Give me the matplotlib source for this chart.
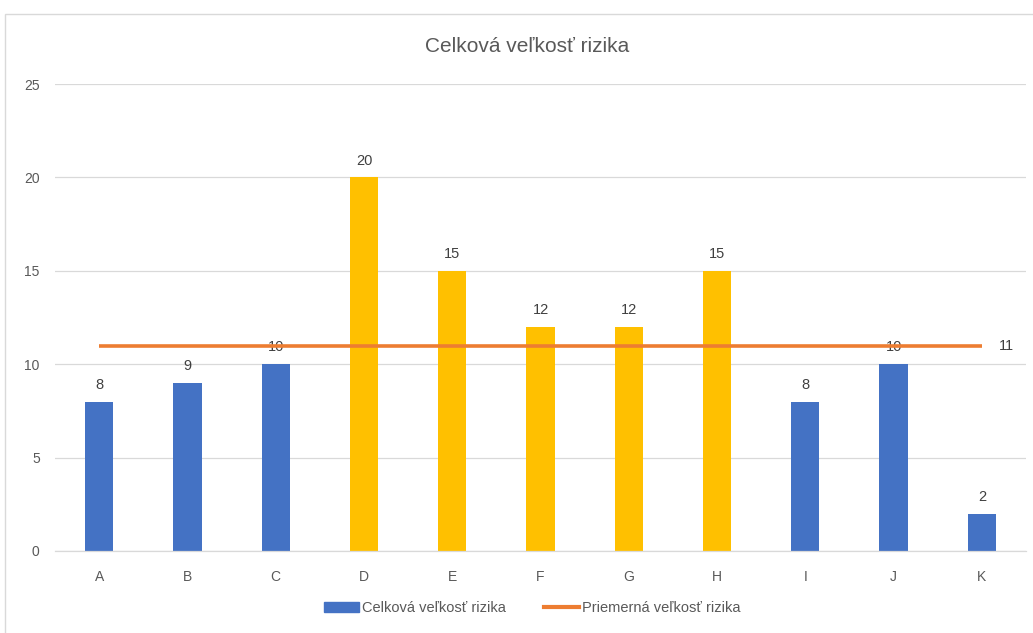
import matplotlib.pyplot as plt
from matplotlib.patches import Rectangle

plt.rcParams['font.family'] = ['Liberation Sans', 'DejaVu Sans']

kategorie = ['A', 'B', 'C', 'D', 'E', 'F', 'G', 'H', 'I', 'J', 'K']
hodnoty = [8, 9, 10, 20, 15, 12, 12, 15, 8, 10, 2]
priemer = [11] * len(kategorie)
farby = ['#4472C4', '#4472C4', '#4472C4', '#FFC000', '#FFC000', '#FFC000',
         '#FFC000', '#FFC000', '#4472C4', '#4472C4', '#4472C4']

seda = '#595959'

fig = plt.figure(figsize=(10.33, 6.33), dpi=100)
fig.patches.append(Rectangle((5 / 1033, -0.1), 1.2, 1 - 14 / 633 + 0.1,
                             transform=fig.transFigure, fill=False,
                             edgecolor='#D9D9D9', linewidth=1))
ax = fig.add_axes([55 / 1033, 1 - 551 / 633, 971 / 1033, 467 / 633])

x = range(len(kategorie))
ax.bar(x, hodnoty, width=0.32, color=farby, zorder=2,
       label='Celková veľkosť rizika')
for xi, v in zip(x, hodnoty):
    ax.annotate(str(v), (xi, v), xytext=(0, 7), textcoords='offset points',
                ha='center', va='bottom', fontsize=10.5, color='#404040', zorder=3)

ax.plot(x, priemer, color='#ED7D31', linewidth=2.6, zorder=4,
        label='Priemerná veľkosť rizika', solid_capstyle='butt')
ax.annotate(str(priemer[-1]), (x[-1], priemer[-1]), xytext=(12, 0),
            textcoords='offset points', ha='left', va='center',
            fontsize=10.5, color='#404040')

ax.set_xlim(-0.5, len(kategorie) - 0.5)
ax.set_ylim(0, 25)
ax.set_yticks([0, 5, 10, 15, 20, 25])
ax.set_xticks(list(x))
ax.set_xticklabels(kategorie)
ax.tick_params(length=0, labelsize=10, labelcolor=seda)
ax.tick_params(axis='x', pad=14)
ax.tick_params(axis='y', pad=11)
ax.grid(axis='y', color='#D9D9D9', linewidth=0.9, zorder=0)
ax.set_axisbelow(True)
for s in ['top', 'right', 'left']:
    ax.spines[s].set_visible(False)
ax.spines['bottom'].set_color('#D9D9D9')
ax.spines['bottom'].set_linewidth(0.9)

fig.text(527 / 1033, 1 - 46 / 633, 'Celková veľkosť rizika', ha='center',
         va='center', fontsize=15, color=seda)

h1 = Rectangle((0, 0), 1, 1, color='#4472C4')
h2 = plt.Line2D([0], [0], color='#ED7D31', linewidth=3)
fig.legend([h1, h2], ['Celková veľkosť rizika', 'Priemerná veľkosť rizika'],
           loc='center', bbox_to_anchor=(532 / 1033, 1 - 608 / 633), ncol=2,
           frameon=False, fontsize=10.5, labelcolor=seda, handlelength=2.4,
           handleheight=0.7, handletextpad=0.2, columnspacing=2.6)

fig.savefig('out.png', dpi=100)
